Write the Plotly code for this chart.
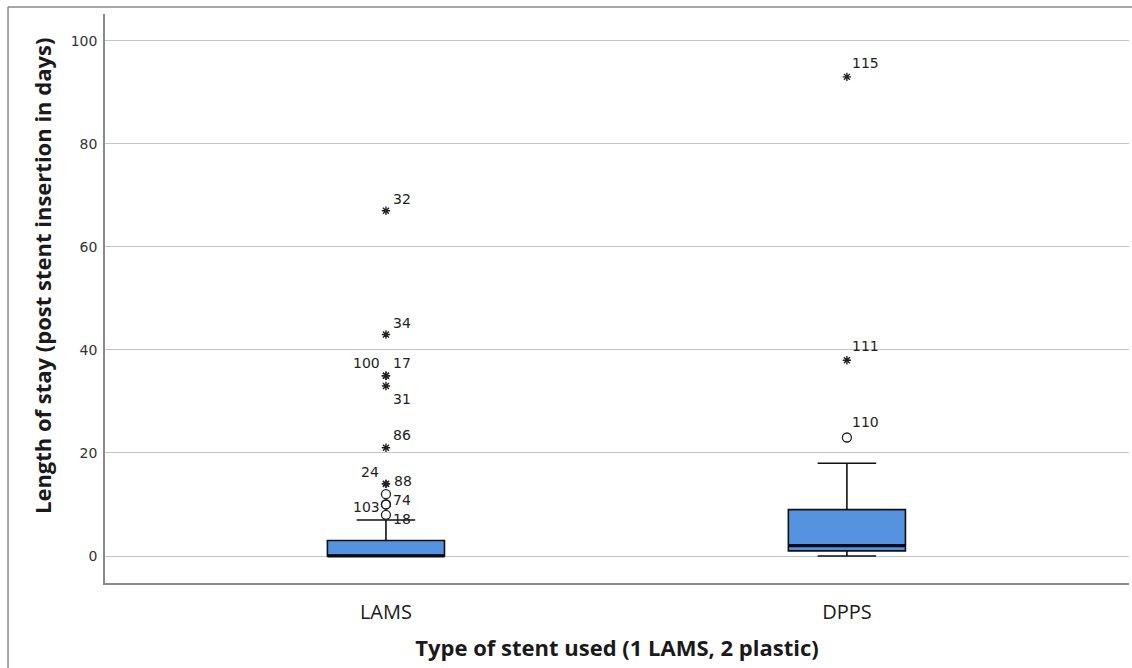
import plotly.graph_objects as go

# Stent groups and their box-plot summary statistics (days)
categories = ["LAMS", "DPPS"]
q1 = [0, 1]
median = [0, 2]
q3 = [3, 9]
lower_whisker = [0, 0]
upper_whisker = [7, 18]

# Extreme outliers (drawn as asterisks), with case ids
star_group = ["LAMS", "LAMS", "LAMS", "LAMS", "LAMS", "LAMS", "LAMS", "LAMS", "DPPS", "DPPS"]
star_value = [67, 43, 35, 35, 33, 21, 14, 14, 93, 38]
star_id = ["32", "34", "100", "17", "31", "86", "24", "88", "115", "111"]

# Mild outliers (drawn as open circles), with case ids
circ_group = ["LAMS", "LAMS", "LAMS", "LAMS", "DPPS"]
circ_value = [12, 10, 10, 8, 23]
circ_id = ["", "74", "103", "18", "110"]

# Case-id label placement: (side, dx px, dy px)
star_label_style = [("l", 5, 12), ("l", 5, 11), ("r", -4, 13), ("l", 5, 13), ("l", 5, -13),
                    ("l", 5, 13), ("r", -5, 12), ("l", 6, 3), ("l", 3, 14), ("l", 3, 14)]
circ_label_style = [("l", 5, 0), ("l", 5, 4), ("r", -4, -3), ("l", 5, -4), ("l", 3, 16)]

BOX_WIDTH = 0.254
FONT = "DejaVu Sans"
INK = "#222222"

fig = go.Figure()

fig.add_trace(go.Box(
    x=categories,
    q1=q1, median=median, q3=q3,
    lowerfence=lower_whisker, upperfence=upper_whisker,
    width=BOX_WIDTH,
    whiskerwidth=0.5,
    fillcolor="#5592e0",
    line=dict(color="#111111", width=1.6),
    boxpoints=False,
    hoverinfo="skip",
    showlegend=False,
))

# Heavier median bar across each box
cat_index = {c: i for i, c in enumerate(categories)}
mx, my = [], []
for c, m in zip(categories, median):
    i = cat_index[c]
    mx += [i - BOX_WIDTH / 2, i + BOX_WIDTH / 2, None]
    my += [m, m, None]
fig.add_trace(go.Scatter(
    x=mx, y=my, mode="lines", xaxis="x2",
    line=dict(color="#0a0a14", width=3.2),
    showlegend=False, hoverinfo="skip",
))

fig.add_trace(go.Scatter(
    x=circ_group, y=circ_value, mode="markers",
    marker=dict(symbol="circle-open", size=9, color=INK, line=dict(width=1.3)),
    showlegend=False, hoverinfo="skip",
))

fig.add_trace(go.Scatter(
    x=star_group, y=star_value, mode="markers",
    marker=dict(symbol="asterisk-open", size=7, color=INK, line=dict(width=1.4, color=INK)),
    showlegend=False, hoverinfo="skip",
))

# Case-id labels next to each outlier
annotations = []
for groups, values, ids, styles in [(star_group, star_value, star_id, star_label_style),
                                    (circ_group, circ_value, circ_id, circ_label_style)]:
    for g, v, t, (side, dx, dy) in zip(groups, values, ids, styles):
        if not t:
            continue
        annotations.append(dict(
            x=g, y=v, xref="x", yref="y", text=t, showarrow=False,
            xanchor="left" if side == "l" else "right", yanchor="middle",
            xshift=dx, yshift=dy,
            font=dict(family=FONT, size=14, color=INK),
        ))

# Vertical axis title, set slightly above the plot's middle
annotations.append(dict(
    x=-0.0615, y=0.5395, xref="paper", yref="paper",
    text="<b>Length of stay (post stent insertion in days)</b>",
    textangle=-90, showarrow=False, xanchor="center", yanchor="middle",
    font=dict(family="Open Sans", size=22, color="#1a1a1a"),
))

X_RANGE = [-0.6095, 1.612]

fig.update_layout(
    width=1132, height=668,
    margin=dict(l=105, r=3, t=14, b=85),
    paper_bgcolor="white", plot_bgcolor="white",
    font=dict(family=FONT, color=INK),
    annotations=annotations,
    xaxis=dict(
        type="category", range=X_RANGE,
        showgrid=False, showline=True, linecolor="#8a8a8a", linewidth=1.5,
        ticks="outside", ticklen=0, ticklabelstandoff=10,
        tickfont=dict(family="Open Sans", size=20, color="#1a1a1a"),
        title=dict(text="<b>Type of stent used (1 LAMS, 2 plastic)</b>",
                   font=dict(family="Open Sans", size=22, color="#1a1a1a"), standoff=17),
    ),
    xaxis2=dict(range=X_RANGE, overlaying="x", visible=False),
    yaxis=dict(
        range=[-5.24, 105.2],
        tickvals=[0, 20, 40, 60, 80, 100],
        showgrid=True, gridcolor="#c4c4c4", gridwidth=1,
        zeroline=True, zerolinecolor="#c4c4c4", zerolinewidth=1,
        showline=True, linecolor="#8a8a8a", linewidth=1.5,
        ticks="outside", ticklen=3, tickcolor="rgba(0,0,0,0)",
        tickfont=dict(family=FONT, size=14, color="#333333"),
    ),
    shapes=[
        # outer chart frame (top and left edges)
        dict(type="line", xref="paper", yref="paper", x0=-0.0947, x1=1.01, y0=1.0123, y1=1.0123,
             line=dict(color="#8a8a8a", width=1.5)),
        dict(type="line", xref="paper", yref="paper", x0=-0.0947, x1=-0.0947, y0=-0.2, y1=1.0123,
             line=dict(color="#8a8a8a", width=1.5)),
    ],
)

fig.write_html("out.html")
